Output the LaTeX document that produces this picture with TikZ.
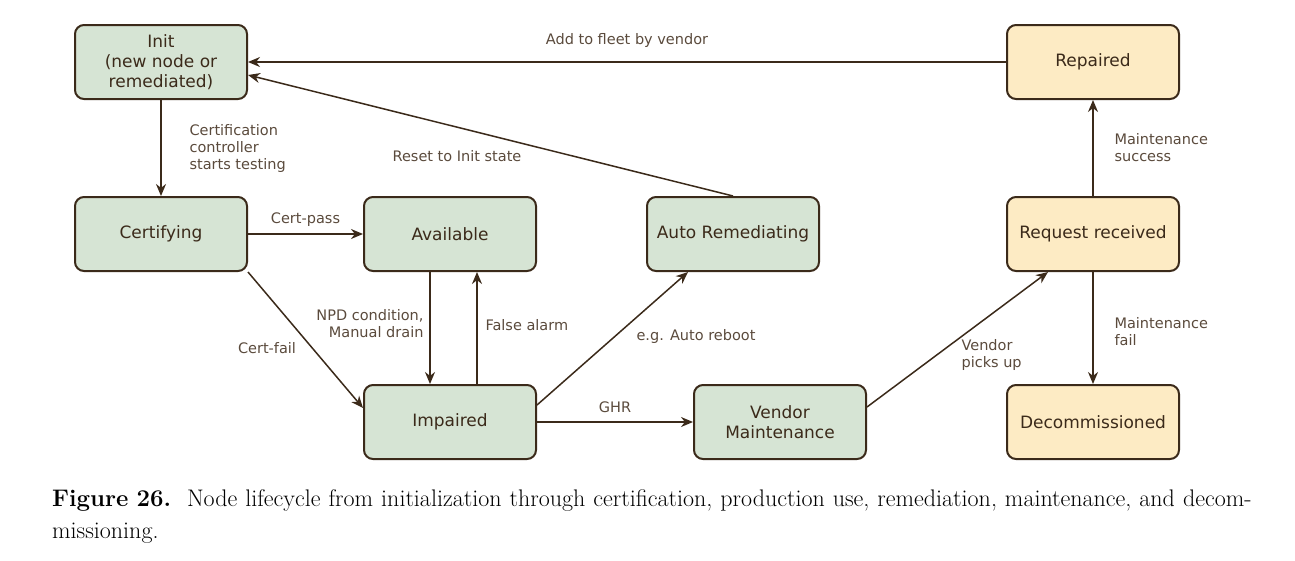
\documentclass[tikz,border=0pt]{standalone}
\usepackage{fontspec}
\setsansfont{DejaVu Sans}
\usetikzlibrary{arrows.meta}
\definecolor{nodegreen}{HTML}{D6E4D4}
\definecolor{nodeorange}{HTML}{FDEBC4}
\definecolor{edgebrown}{HTML}{3B2A1A}
\definecolor{labelbrown}{HTML}{5A4A3C}
\tikzset{
  state/.style={draw=edgebrown, line width=2pt, rounded corners=9pt,
    minimum width=172pt, minimum height=74pt, align=center,
    font=\sffamily\fontsize{17}{20}\selectfont, text=edgebrown},
  green/.style={state, fill=nodegreen},
  orange/.style={state, fill=nodeorange},
  flow/.style={draw=edgebrown, line width=1.5pt, -{Stealth[length=12pt,width=10pt]}},
  lbl/.style={font=\sffamily\fontsize{14.5}{17}\selectfont, text=labelbrown}
}
\begin{document}
\begin{tikzpicture}[x=1pt,y=-1pt]
\useasboundingbox (0,0) rectangle (1295,560);
% states
\node[green] (init) at (161,62) {Init\\(new node or\\remediated)};
\node[green] (cert) at (161,234) {Certifying};
\node[green] (avail) at (450,234) {Available};
\node[green] (auto) at (733,234) {Auto Remediating};
\node[green] (imp) at (450,422) {Impaired};
\node[green] (vend) at (780,422) {Vendor\\Maintenance};
\node[orange] (rep) at (1093,62) {Repaired};
\node[orange] (req) at (1093,234) {Request received};
\node[orange] (dec) at (1093,422) {Decommissioned};

% transitions
\draw[flow] (init) -- (cert);
\node[lbl, align=left, anchor=west] at (186,148) {Certification\\controller\\starts testing};
\draw[flow] (cert) -- node[lbl, above=3pt] {Cert-pass} (avail);
\draw[flow] (cert.south east) -- (imp.west |- 0,408);
\node[lbl] at (267,348) {Cert-fail};
\draw[flow] (avail.south -| 430,0) -- (imp.north -| 430,0);
\node[lbl, align=right, anchor=east] at (427,324) {NPD condition,\\Manual drain};
\draw[flow] (imp.north -| 477,0) -- (avail.south -| 477,0);
\node[lbl, anchor=west] at (482,325) {False alarm};
\draw[flow] (imp.east |- 0,405) -- (auto.south -| 688,0);
\node[lbl, anchor=west] at (633,336) {e.g. Auto reboot};
\draw[flow] (auto.north) -- (init.east |- 0,75);
\node[lbl] at (457,156) {Reset to Init state};
\draw[flow] (rep) -- node[lbl, above=10pt] {Add to fleet by vendor} (init);
\draw[flow] (imp) -- node[lbl, above=5pt] {GHR} (vend);
\draw[flow] (vend.east |- 0,407) -- (req.south -| 1048,0);
\node[lbl, align=left, anchor=west] at (958,355) {Vendor\\picks up};
\draw[flow] (req) -- (rep);
\node[lbl, align=left, anchor=west] at (1111,148) {Maintenance\\success};
\draw[flow] (req) -- (dec);
\node[lbl, align=left, anchor=west] at (1111,332) {Maintenance\\fail};

% caption
\node[anchor=north west, text width=1200pt, align=left, inner sep=0pt,
  font=\fontsize{24}{32}\selectfont] (cap) at (52,489)
  {\textbf{Figure 26.}\ \ Node lifecycle from initialization through certification, production use, remediation, maintenance, and decommissioning.};
\end{tikzpicture}
\end{document}
